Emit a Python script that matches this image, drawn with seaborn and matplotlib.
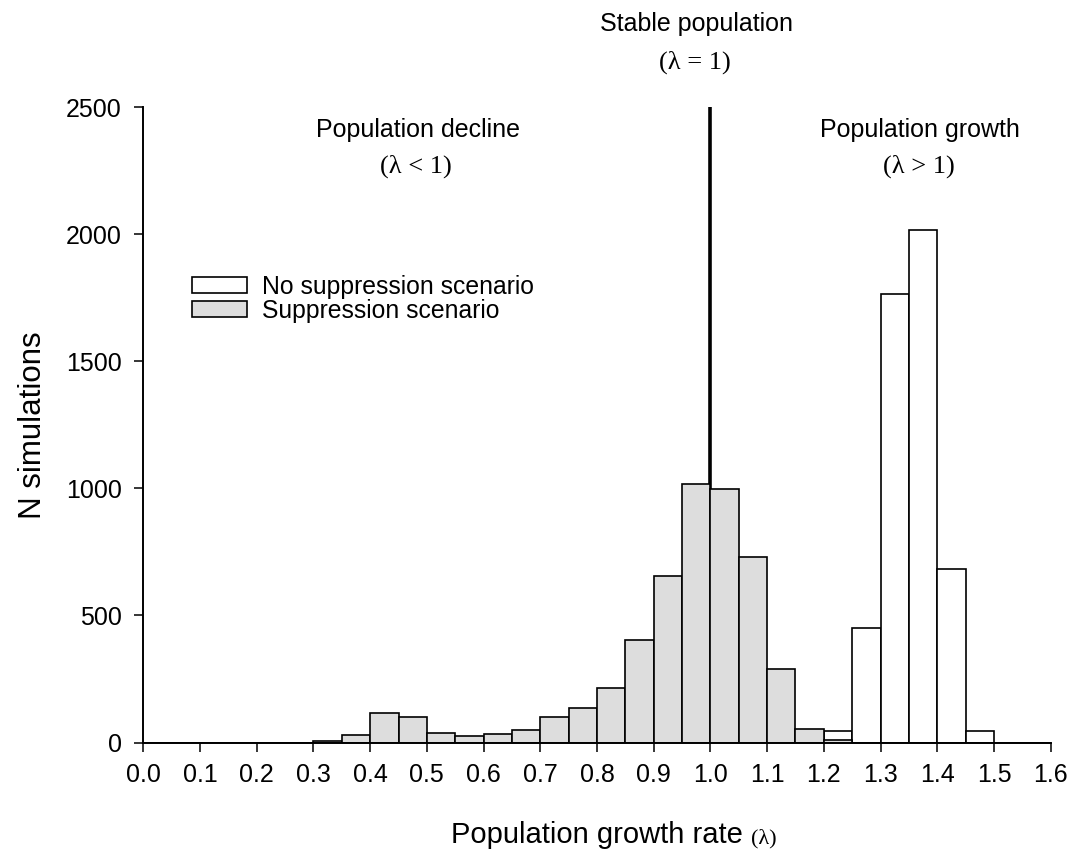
import numpy as np
import matplotlib
matplotlib.use("Agg")
import matplotlib.pyplot as plt
import matplotlib.patches as mpatches
import seaborn as sns

# ---- data (bin width 0.05 from 0.0 to 1.6) ----
bin_edges = [round(0.05 * i, 2) for i in range(33)]
bin_centers = [round(0.05 * i + 0.025, 3) for i in range(32)]
no_suppression = [0, 0, 0, 0, 0, 0, 0, 0, 0, 0, 0, 0, 0, 0, 0, 0,
                  0, 0, 0, 0, 0, 0, 0, 0, 44, 449, 1766, 2017, 683, 46, 0, 0]
suppression = [0, 0, 0, 0, 0, 0, 6, 31, 115, 101, 39, 27, 33, 48, 101, 135,
               216, 403, 655, 1018, 998, 730, 290, 54, 10, 0, 0, 0, 0, 0, 0, 0]
legend_labels = ["No suppression scenario", "Suppression scenario"]
x_ticks = [round(0.1 * i, 1) for i in range(17)]
y_ticks = [0, 500, 1000, 1500, 2000, 2500]

sns.set_style("ticks")
plt.rcParams["font.family"] = ["Liberation Sans", "DejaVu Sans"]
plt.rcParams.update({"text.color": "black", "axes.labelcolor": "black",
                     "xtick.color": "black", "ytick.color": "black",
                     "axes.edgecolor": "black"})

fig = plt.figure(figsize=(10.75, 8.52), dpi=100)
ax = fig.add_axes([0.1333, 0.1285, 0.8441, 0.7459])

gray = "#dddddd"
sns.histplot(x=bin_centers, weights=no_suppression, bins=bin_edges, ax=ax,
             color="white", edgecolor="black", linewidth=1.2, alpha=1)
sns.histplot(x=bin_centers, weights=suppression, bins=bin_edges, ax=ax,
             color=gray, edgecolor="black", linewidth=1.2, alpha=1)

ax.axvline(1.0, color="black", lw=2.6, zorder=0.5)

ax.set_xlim(0, 1.6)
ax.set_ylim(0, 2500)
ax.set_xticks(x_ticks)
ax.set_xticklabels([f"{v:.1f}" for v in x_ticks])
ax.set_yticks(y_ticks)
ax.tick_params(axis="both", labelsize=18, length=6.5, width=1.1, direction="out",
               colors="black")
ax.tick_params(axis="x", pad=8)
ax.tick_params(axis="y", pad=9)
for s in ["top", "right"]:
    ax.spines[s].set_visible(False)
for s in ["left", "bottom"]:
    ax.spines[s].set_linewidth(1.4)
ax.set_xlabel("")
ax.set_ylabel("")

# axis labels
fig.text(0.031, 0.5015, "N simulations", rotation=90, ha="center", va="center", fontsize=22.5)
xl = fig.text(0.5553, 1 - 843 / 852, "Population growth rate", ha="center", va="baseline", fontsize=21)

# annotations
serif = ["Liberation Serif", "DejaVu Serif"]
ax.text(0.976, 2825, "Stable population", ha="center", va="center", fontsize=18, clip_on=False)
ax.text(0.972, 2677, "(λ = 1)", ha="center", va="center", fontsize=19, family=serif, clip_on=False)
ax.text(0.485, 2410, "Population decline", ha="center", va="center", fontsize=18)
ax.text(0.481, 2268, "(λ < 1)", ha="center", va="center", fontsize=19, family=serif)
ax.text(1.370, 2410, "Population growth", ha="center", va="center", fontsize=18)
ax.text(1.367, 2268, "(λ > 1)", ha="center", va="center", fontsize=19, family=serif)

handles = [mpatches.Patch(facecolor="white", edgecolor="black", linewidth=1.2),
           mpatches.Patch(facecolor=gray, edgecolor="black", linewidth=1.2)]
ax.legend(handles, legend_labels, loc="upper left", bbox_to_anchor=(0.0535, 0.736),
          frameon=False, fontsize=17.8, handlelength=2.25, handleheight=0.62,
          handletextpad=0.6, labelspacing=0.0, borderpad=0, borderaxespad=0)

fig.canvas.draw()
r = fig.canvas.get_renderer()
bb = xl.get_window_extent(r).transformed(fig.transFigure.inverted())
fig.text(bb.x1 + 0.008, 1 - 843 / 852, "(λ)", ha="left", va="baseline", fontsize=16, family=serif)

fig.savefig("out.png", dpi=100)
